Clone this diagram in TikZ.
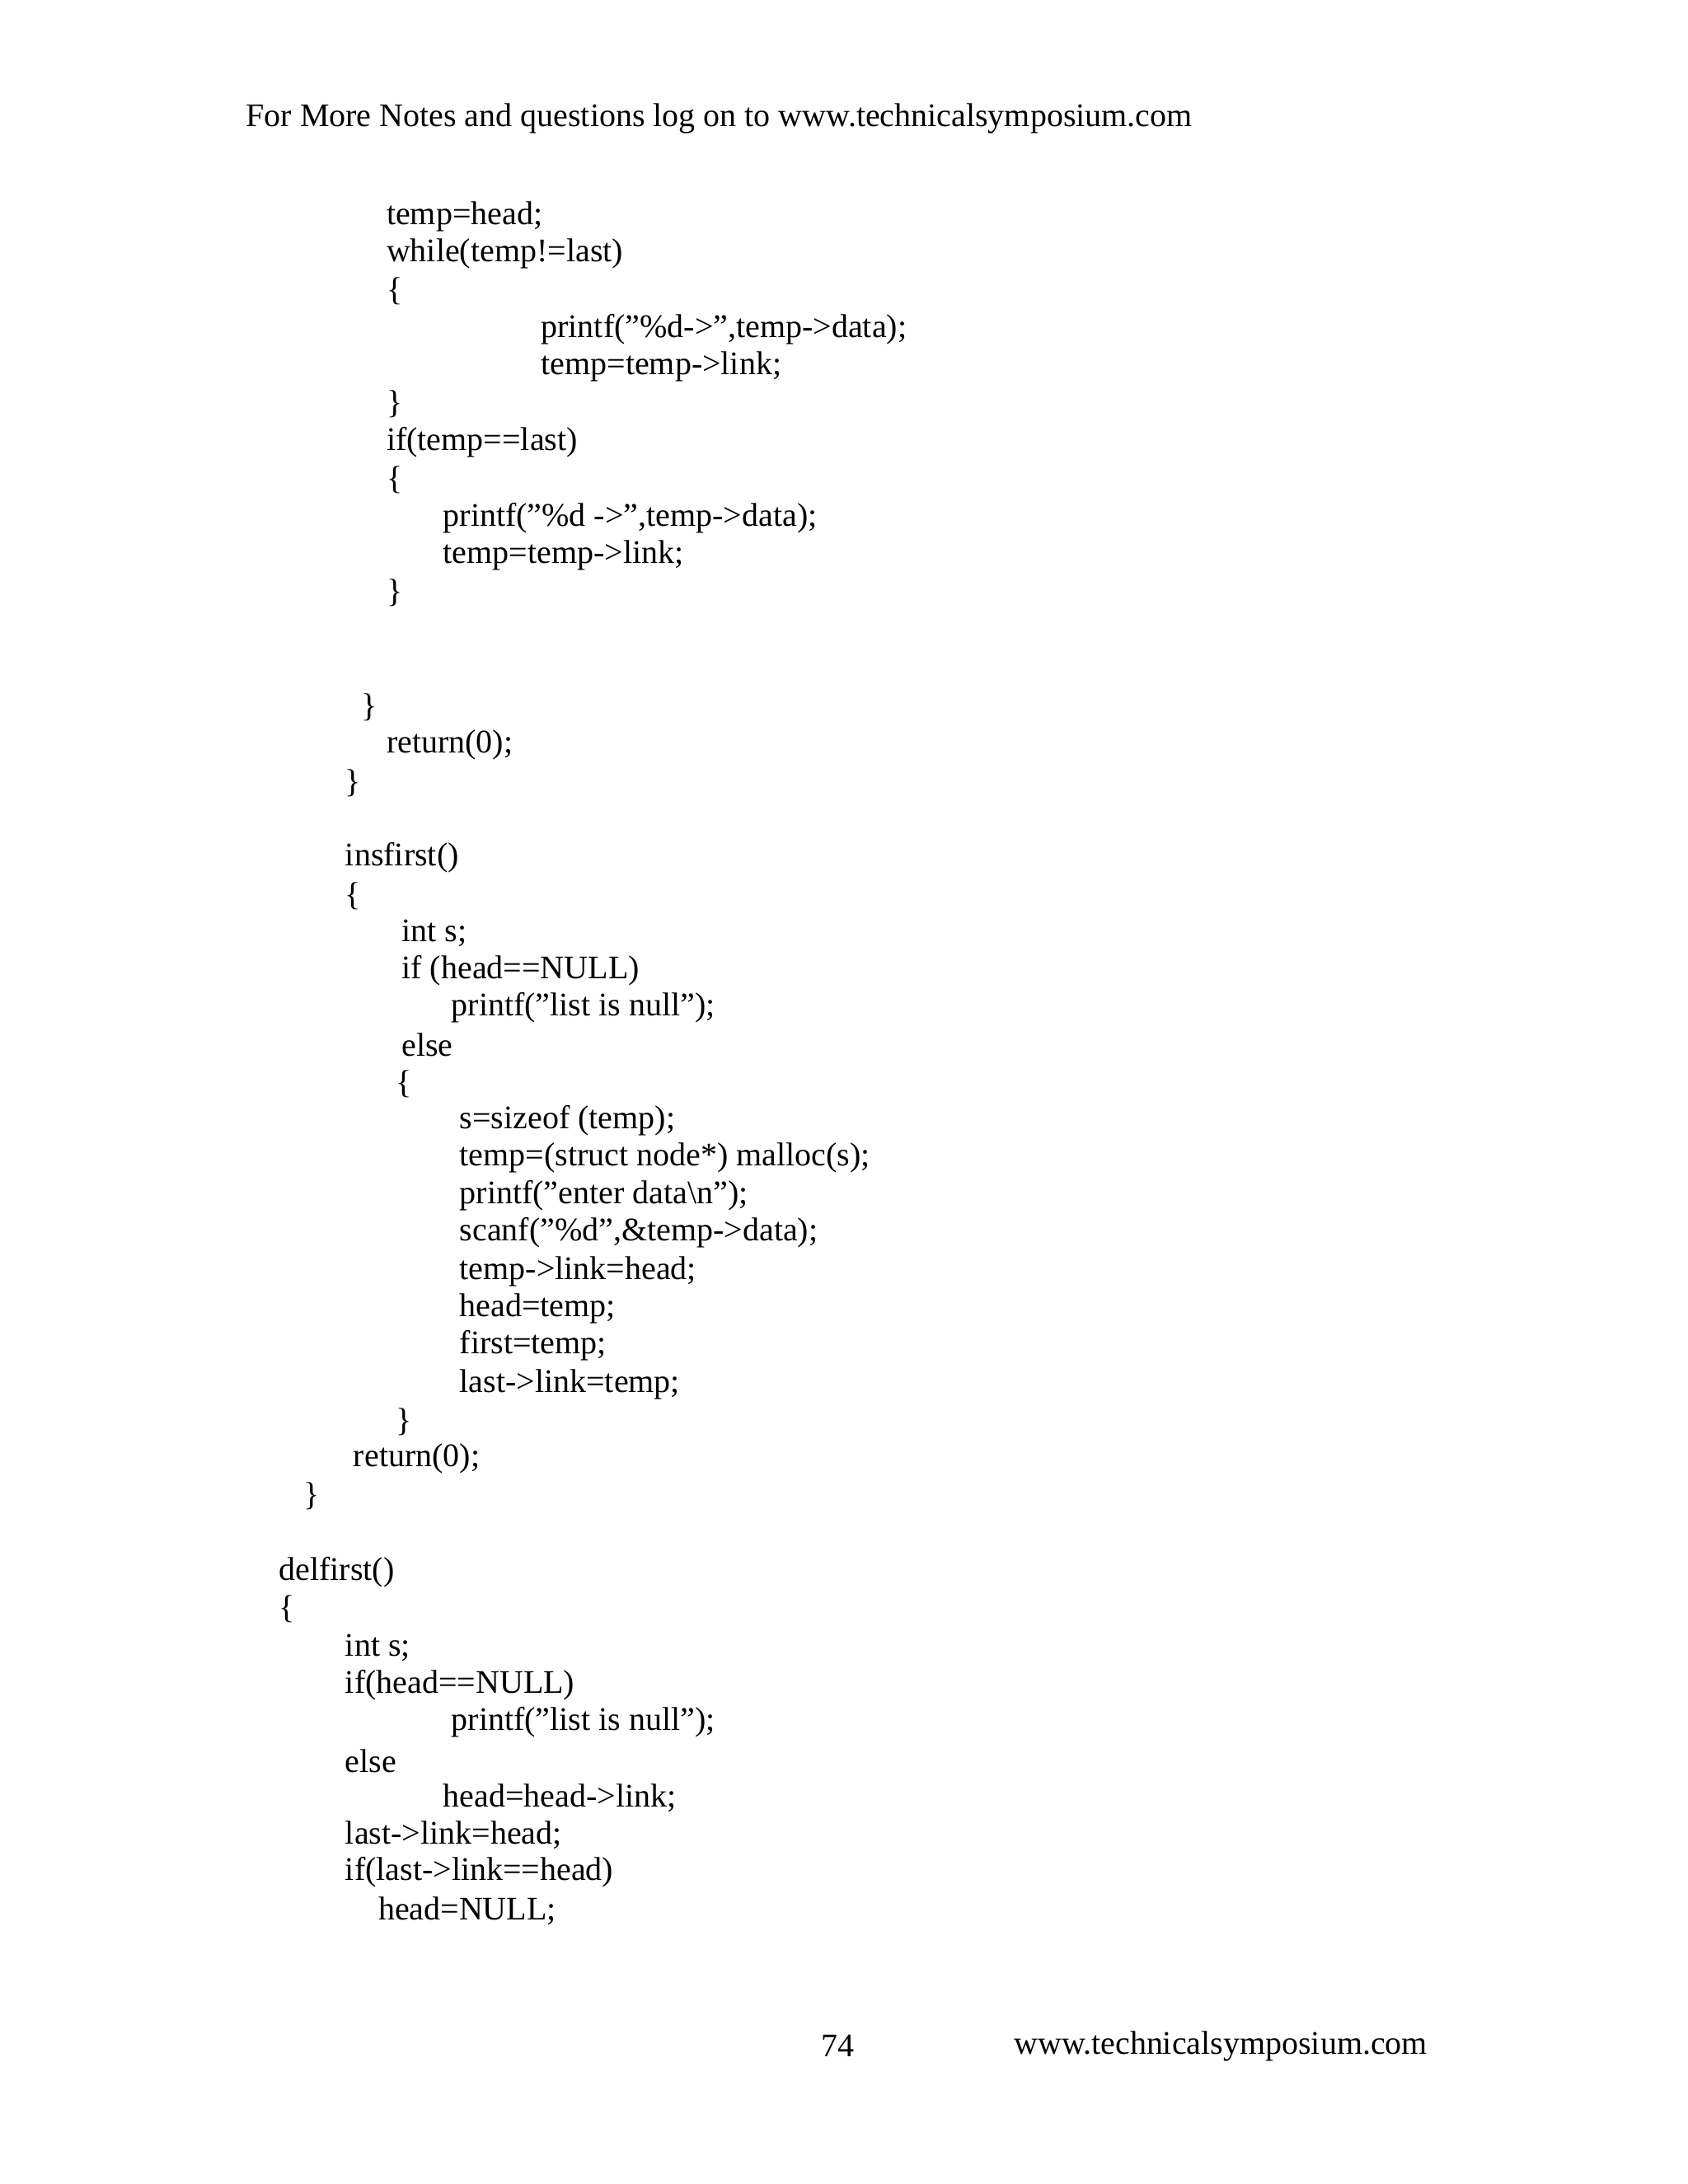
\documentclass[tikz,border=0pt]{standalone}
\usepackage{fontspec}
\setmainfont{Liberation Serif}
\begin{document}
\begin{tikzpicture}[x=0.502pt,y=-0.502pt,t/.style={anchor=west,inner sep=0pt,font=\fontsize{12}{14}\selectfont}]
\useasboundingbox[fill=white] (0,0) rectangle (1224,1584);
\node[t] (h) at (178,86) {For More Notes and questions log on to www.technicalsymposium.com};
\node[t] (a1) at (280,157) {temp=head;};
\node[t] (a2) at (280,184) {while(temp!=last)};
\node[t] (a3) at (280,211) {\{};
\node[t] (a4) at (392,239) {printf("\%d->",temp->data);};
\node[t] (a5) at (392,266) {temp=temp->link;};
\node[t] (a6) at (280,293) {\}};
\node[t] (a7) at (280,321) {if(temp==last)};
\node[t] (a8) at (280,348) {\{};
\node[t] (a9) at (321,376) {printf("\%d ->",temp->data);};
\node[t] (a10) at (321,403) {temp=temp->link;};
\node[t] (a11) at (280,430) {\}};
\node[t] (a12) at (262,513) {\}};
\node[t] (a13) at (280,540) {return(0);};
\node[t] (a14) at (250,568) {\}};
\node[t] (b1) at (250,622) {insfirst()};
\node[t] (b2) at (250,650) {\{};
\node[t] (b3) at (291,677) {int s;};
\node[t] (b4) at (291,704) {if (head==NULL)};
\node[t] (b5) at (327,731) {printf("list is null");};
\node[t] (b6) at (291,758) {else};
\node[t] (b7) at (287,786) {\{};
\node[t] (b8) at (333,813) {s=sizeof (temp);};
\node[t] (b9) at (333,840) {temp=(struct node*) malloc(s);};
\node[t] (b10) at (333,867) {printf("enter data\textbackslash n");};
\node[t] (b11) at (333,894) {scanf("\%d",\&temp->data);};
\node[t] (b12) at (333,922) {temp->link=head;};
\node[t] (b13) at (333,949) {head=temp;};
\node[t] (b14) at (333,976) {first=temp;};
\node[t] (b15) at (333,1004) {last->link=temp;};
\node[t] (b16) at (287,1031) {\}};
\node[t] (b17) at (256,1058) {return(0);};
\node[t] (b18) at (220,1085) {\}};
\node[t] (c1) at (202,1140) {delfirst()};
\node[t] (c2) at (202,1167) {\{};
\node[t] (c3) at (250,1195) {int s;};
\node[t] (c4) at (250,1222) {if(head==NULL)};
\node[t] (c5) at (327,1249) {printf("list is null");};
\node[t] (c6) at (250,1277) {else};
\node[t] (c7) at (321,1304) {head=head->link;};
\node[t] (c8) at (250,1331) {last->link=head;};
\node[t] (c9) at (250,1358) {if(last->link==head)};
\node[t] (c10) at (274,1386) {head=NULL;};
\node[t] (p) at (595,1484) {74};
\node[t] (w) at (735,1484) {www.technicalsymposium.com};
\end{tikzpicture}
\end{document}
